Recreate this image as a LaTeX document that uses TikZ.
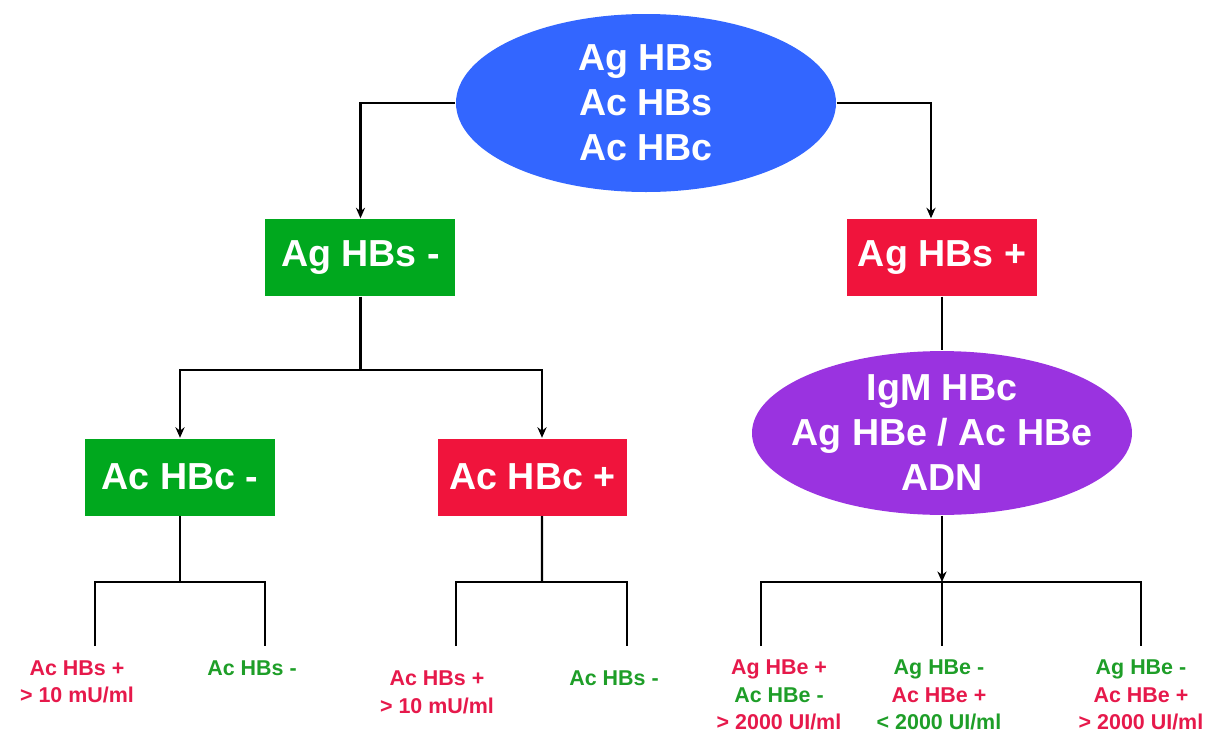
\documentclass[tikz,border=0pt]{standalone}
\usepackage{fontspec}
\setmainfont{Liberation Sans}
\usetikzlibrary{shapes.geometric,arrows.meta}

\definecolor{azul}{HTML}{3366FF}
\definecolor{morado}{HTML}{9A33E0}
\definecolor{verde}{HTML}{00A81E}
\definecolor{rojo}{HTML}{F0143C}
\definecolor{txtrojo}{HTML}{E6194B}
\definecolor{txtverde}{HTML}{1E9E28}

\tikzset{
  caja/.style={rectangle, minimum width=1.9cm, minimum height=0.77cm, inner sep=0pt,
    text=white, font=\fontsize{10.7}{12.8}\selectfont\bfseries},
  elipse/.style={ellipse, minimum width=3.8cm, inner ysep=0pt, inner xsep=-0.17cm, align=center,
    text=white, font=\fontsize{10.7}{12.8}\selectfont\bfseries},
  res/.style={align=center, inner sep=0pt, font=\fontsize{6.1}{7.8}\selectfont\bfseries},
  linea/.style={line width=0.7pt},
  flecha/.style={linea, -{Stealth[length=3pt,width=2.6pt]}}
}

\begin{document}
\begin{tikzpicture}
    \useasboundingbox (0,0) rectangle (12.14,7.32);

    % Marcadores iniciales
    \node[elipse, fill=azul, minimum height=1.78cm] (raiz) at (6.46,6.29) {Ag HBs\\Ac HBs\\Ac HBc};

    % Primer nivel
    \node[caja, fill=verde] (agsneg) at (3.605,4.745) {Ag HBs -};
    \node[caja, fill=rojo]  (agspos) at (9.42,4.745) {Ag HBs +};

    \draw[flecha] (raiz.west) -| (agsneg.north);
    \draw[flecha] (raiz.east) -| ([xshift=-0.11cm]agspos.north);

    % Rama Ag HBs -
    \node[caja, fill=verde] (acneg) at (1.80,2.55) {Ac HBc -};
    \node[caja, fill=rojo]  (acpos) at (5.325,2.55) {Ac HBc +};

    \coordinate (b1) at (3.605,3.62);
    \draw[linea] (agsneg.south) -- (b1);
    \draw[flecha] (b1) -| (acneg.north);
    \draw[flecha] (b1) -| ([xshift=0.095cm]acpos.north);

    % Rama Ag HBs +
    \node[elipse, fill=morado, minimum height=1.60cm] (igm) at (9.42,2.99) {IgM HBc\\Ag HBe / Ac HBe\\ADN};
    \draw[linea] (agspos.south) -- (igm.north);

    % Horquillas inferiores
    \coordinate (b2) at (1.80,1.50);
    \coordinate (b3) at (5.42,1.50);
    \coordinate (b4) at (9.42,1.50);
    \coordinate (e1) at (0.95,0.86);
    \coordinate (e2) at (2.65,0.86);
    \coordinate (e3) at (4.56,0.86);
    \coordinate (e4) at (6.27,0.86);
    \coordinate (e5) at (7.61,0.86);
    \coordinate (e6) at (9.42,0.86);
    \coordinate (e7) at (11.41,0.86);

    \draw[linea] (acneg.south) -- (b2);
    \draw[linea] (e1) |- (b2) -| (e2);
    \draw[linea] ([xshift=0.095cm]acpos.south) -- (b3);
    \draw[linea] (e3) |- (b3) -| (e4);
    \draw[flecha] (igm.south) -- (b4);
    \draw[linea] (e5) |- (b4) -| (e7);
    \draw[linea] (b4) -- (e6);

    % Resultados
    \node[res] (r1) at (0.77,0.50) {\textcolor{txtrojo}{Ac HBs +}\\\textcolor{txtrojo}{> 10 mU/ml}};
    \node[res, text=txtverde] (r2) at (2.52,0.64) {Ac HBs -};
    \node[res] (r3) at (4.37,0.395) {\textcolor{txtrojo}{Ac HBs +}\\\textcolor{txtrojo}{> 10 mU/ml}};
    \node[res, text=txtverde] (r4) at (6.14,0.54) {Ac HBs -};
    \node[res] (r5) at (7.79,0.37) {\textcolor{txtrojo}{Ag HBe +}\\\textcolor{txtverde}{Ac HBe -}\\\textcolor{txtrojo}{> 2000 UI/ml}};
    \node[res] (r6) at (9.39,0.37) {\textcolor{txtverde}{Ag HBe -}\\\textcolor{txtrojo}{Ac HBe +}\\\textcolor{txtverde}{< 2000 UI/ml}};
    \node[res] (r7) at (11.41,0.37) {\textcolor{txtverde}{Ag HBe -}\\\textcolor{txtrojo}{Ac HBe +}\\\textcolor{txtrojo}{> 2000 UI/ml}};
  \end{tikzpicture}
\end{document}
